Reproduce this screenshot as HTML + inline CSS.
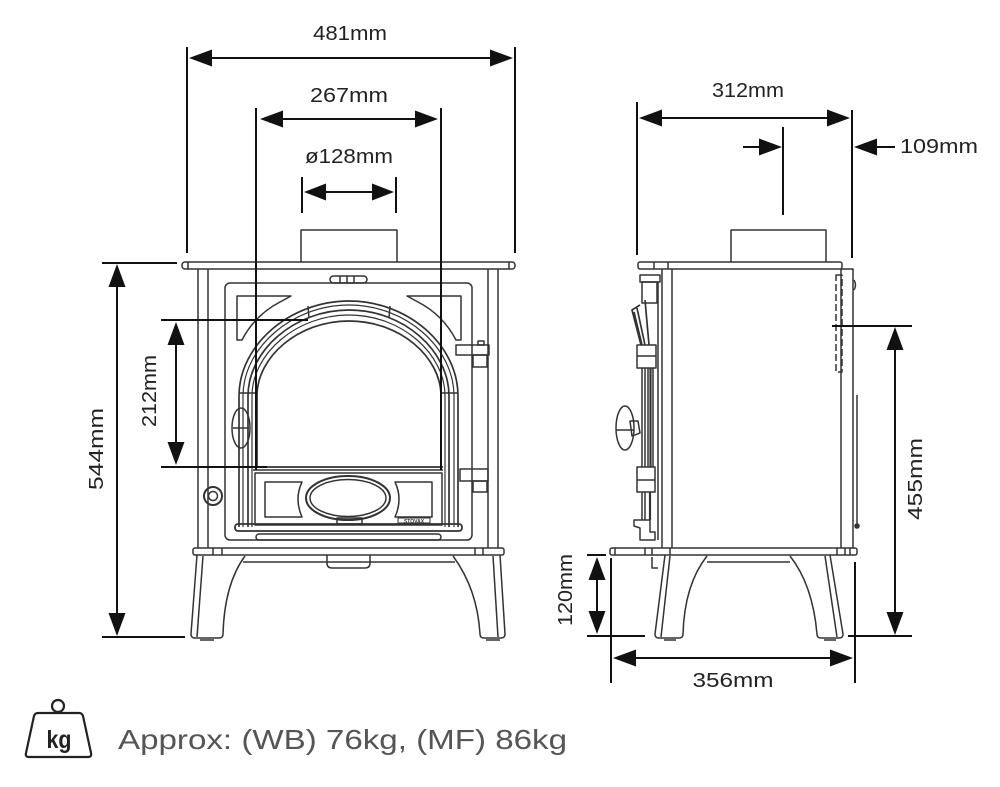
<!DOCTYPE html>
<html><head><meta charset="utf-8"><style>
html,body{margin:0;padding:0;background:#fff;}
svg{display:block;}
text{font-family:"Liberation Sans",sans-serif;}
</style></head><body>
<svg width="1000" height="787" viewBox="0 0 1000 787" xmlns="http://www.w3.org/2000/svg">
<rect width="1000" height="787" fill="#fff"/>

<!-- FRONT VIEW -->
<g fill="none" stroke="#333" stroke-width="1.5" stroke-linejoin="round">
  <path d="M301,262 L301,230 L397,230 L397,262"/>
  <rect x="182" y="262" width="333" height="7" rx="3"/>
  <line x1="188" y1="262" x2="188" y2="269"/>
  <line x1="509" y1="262" x2="509" y2="269"/>
  <line x1="198" y1="269" x2="198" y2="548"/>
  <line x1="208" y1="269" x2="208" y2="548"/>
  <line x1="488" y1="269" x2="488" y2="548"/>
  <line x1="498" y1="269" x2="498" y2="548"/>
  <rect x="225" y="283" width="247" height="257" rx="5"/>
  <rect x="330" y="276" width="37" height="7" rx="3.5"/>
  <line x1="340" y1="276" x2="340" y2="283"/>
  <line x1="347" y1="276" x2="347" y2="283"/>
  <line x1="354" y1="276" x2="354" y2="283"/>
  <path d="M237,296 L291,296 L280,302 Q255,315 242,340 L237,340 Z"/>
  <path d="M461,296 L407,296 L418,302 Q443,315 456,340 L461,340 Z"/>
  <path d="M239,527 L239,396 C239,345 290,301 349,301 C408,301 458,345 458,396 L458,527" stroke-width="1.7"/>
  <path d="M243,527 L243,396 C243,348 292,305 349,305 C406,305 454,348 454,396 L454,527" stroke-width="1.2"/>
  <path d="M248,527 L248,396 C248,351 294,310 349,310 C404,310 449,351 449,396 L449,527" stroke-width="1.7"/>
  <path d="M252,527 L252,396 C252,354 296,315 349,315 C402,315 445,354 445,396 L445,527" stroke-width="1.2"/>
  <path d="M257,467 L257,396 C257,357 298,321 349,321 C400,321 441,357 441,396 L441,467" stroke-width="1.7"/>
  <line x1="239" y1="393" x2="257" y2="393"/>
  <line x1="441" y1="393" x2="458" y2="393"/>
  <line x1="308" y1="306" x2="309" y2="318"/>
  <line x1="390" y1="306" x2="389" y2="318"/>
  <rect x="456" y="345" width="33" height="10"/>
  <rect x="473" y="355" width="14" height="12"/>
  <rect x="478" y="341" width="6" height="4"/>
  <rect x="460" y="469" width="28" height="12"/>
  <rect x="473" y="481" width="14" height="11"/>
  <ellipse cx="241" cy="428" rx="9" ry="20"/>
  <line x1="233" y1="428" x2="249" y2="428"/>
  <circle cx="213" cy="496" r="9" stroke-width="2"/>
  <circle cx="213" cy="496" r="4.5"/>
  <line x1="252" y1="467" x2="443" y2="467" stroke-width="1.8"/>
  <line x1="253" y1="470" x2="443" y2="470"/>
  <rect x="255" y="473" width="187" height="52"/>
  <path d="M265,482 L302,482 Q294,499 302,517 L265,517 Z"/>
  <path d="M432,482 L395,482 Q403,499 395,517 L432,517 Z"/>
  <ellipse cx="348" cy="498" rx="42" ry="22" stroke-width="2"/>
  <ellipse cx="348" cy="498" rx="38" ry="18.5"/>
  <rect x="337" y="518" width="25" height="6"/>
  <rect x="398" y="518" width="32" height="5" stroke-width="1"/>
  <rect x="235" y="524" width="227" height="7" rx="3" stroke-width="1.8"/>
  <rect x="256" y="534" width="185" height="6" rx="3"/>
  <rect x="193" y="548" width="311" height="7" rx="2"/>
  <line x1="213" y1="548" x2="213" y2="555"/>
  <line x1="222" y1="548" x2="222" y2="555"/>
  <line x1="475" y1="548" x2="475" y2="555"/>
  <line x1="483" y1="548" x2="483" y2="555"/>
  <line x1="243" y1="562" x2="455" y2="562"/>
  <path d="M327,555 L327,563 Q327,568 332,568 L365,568 Q370,568 370,563 L370,555"/>
  <path d="M197,555 L191,634 Q191,638 195,638 L219,638 Q223,638 223,634 C224,600 231,575 245,556"/>
  <line x1="203" y1="556" x2="197" y2="637"/>
  <path d="M500,555 L505,634 Q505,638 501,638 L484,638 Q480,638 480,634 C478,600 467,575 453,556"/>
  <line x1="493" y1="556" x2="498" y2="637"/>
  <line x1="200" y1="640" x2="214" y2="640"/>
  <line x1="486" y1="640" x2="500" y2="640"/>
</g>

<!-- SIDE VIEW -->
<g fill="none" stroke="#333" stroke-width="1.5" stroke-linejoin="round">
  <path d="M731,262 L731,230 L826,230 L826,262"/>
  <rect x="638" y="262" width="204" height="7" rx="2"/>
  <line x1="654" y1="262" x2="654" y2="269"/>
  <line x1="668" y1="262" x2="668" y2="269"/>
  <line x1="662" y1="269" x2="662" y2="548"/>
  <line x1="672" y1="269" x2="672" y2="548"/>
  <line x1="841" y1="269" x2="841" y2="548"/>
  <path d="M841,269 L853,269 L853,548"/>
  <rect x="836" y="275" width="6" height="97" stroke-dasharray="7,3"/>
  <path d="M854,280 Q857,285 854,290"/>
  <line x1="857" y1="395" x2="857" y2="528"/>
  <circle cx="857" cy="526" r="2" fill="#333"/>
  <rect x="640" y="275" width="20" height="7"/>
  <rect x="642" y="282" width="15" height="21"/>
  <line x1="658" y1="282" x2="658" y2="540"/>
  <path d="M640,305 L632,310 L641,345 M645,300 L649,345 M637,308 L645,345 M634,312 L642,345" stroke-width="1.7"/>
  <rect x="637" y="345" width="19" height="23"/>
  <line x1="637" y1="356" x2="656" y2="356"/>
  <line x1="642" y1="368" x2="642" y2="467"/>
  <line x1="645" y1="368" x2="645" y2="467"/>
  <line x1="648" y1="368" x2="648" y2="467"/>
  <line x1="650.5" y1="368" x2="650.5" y2="467" stroke-width="2.2"/>
  <line x1="653" y1="368" x2="653" y2="467"/>
  <ellipse cx="625" cy="428" rx="9" ry="22"/>
  <line x1="616" y1="430" x2="634" y2="430"/>
  <path d="M630,421 L638,421 L640,433 L632,436 Z"/>
  <rect x="637" y="467" width="18" height="25"/>
  <line x1="637" y1="480" x2="655" y2="480"/>
  <line x1="642" y1="492" x2="642" y2="520"/>
  <line x1="645" y1="492" x2="645" y2="520"/>
  <line x1="650" y1="492" x2="650" y2="520" stroke-width="2.2"/>
  <path d="M634,520 L650,520 L650,532 L655,532 L655,540 L640,540 L640,528 L634,526 Z"/>
  <rect x="610" y="548" width="247" height="7" rx="2"/>
  <line x1="615" y1="548" x2="615" y2="555"/>
  <line x1="645" y1="548" x2="645" y2="555"/>
  <line x1="652" y1="548" x2="652" y2="555"/>
  <line x1="670" y1="548" x2="670" y2="555"/>
  <line x1="837" y1="548" x2="837" y2="555"/>
  <line x1="845" y1="548" x2="845" y2="555"/>
  <line x1="850" y1="548" x2="850" y2="555"/>
  <path d="M652,557 L652,568 L658,568"/>
  <line x1="707" y1="562" x2="790" y2="562"/>
  <path d="M665,555 L655,634 Q655,638 659,638 L679,638 Q683,638 683,634 C684,600 692,575 707,556"/>
  <line x1="670" y1="556" x2="661" y2="637"/>
  <path d="M830,555 L843,634 Q843,638 839,638 L821,638 Q817,638 817,634 C814,600 805,575 790,556"/>
  <line x1="825" y1="556" x2="837" y2="637"/>
  <line x1="664" y1="640" x2="676" y2="640"/>
  <line x1="824" y1="640" x2="836" y2="640"/>
</g>

<!-- DIMENSION LINES -->
<g stroke="#111" stroke-width="2" fill="none">
  <line x1="187" y1="47" x2="187" y2="253"/>
  <line x1="515" y1="47" x2="515" y2="253"/>
  <line x1="195" y1="58" x2="507" y2="58"/>
  <line x1="256" y1="108" x2="256" y2="470"/>
  <line x1="441" y1="108" x2="441" y2="470"/>
  <line x1="268" y1="119" x2="430" y2="119"/>
  <line x1="302" y1="177" x2="302" y2="213"/>
  <line x1="396" y1="177" x2="396" y2="213"/>
  <line x1="310" y1="192" x2="388" y2="192"/>
  <line x1="102" y1="263" x2="177" y2="263"/>
  <line x1="102" y1="637" x2="185" y2="637"/>
  <line x1="117" y1="270" x2="117" y2="630"/>
  <line x1="161" y1="320" x2="308" y2="320"/>
  <line x1="161" y1="467" x2="267" y2="467"/>
  <line x1="176" y1="328" x2="176" y2="459"/>
  <line x1="637" y1="102" x2="637" y2="255"/>
  <line x1="852" y1="110" x2="852" y2="258"/>
  <line x1="644" y1="118" x2="845" y2="118"/>
  <line x1="783" y1="127" x2="783" y2="215"/>
  <line x1="743" y1="147" x2="770" y2="147"/>
  <line x1="866" y1="147" x2="895" y2="147"/>
  <line x1="832" y1="326" x2="912" y2="326"/>
  <line x1="848" y1="636" x2="912" y2="636"/>
  <line x1="895" y1="335" x2="895" y2="628"/>
  <line x1="587" y1="555" x2="606" y2="555"/>
  <line x1="587" y1="636" x2="645" y2="636"/>
  <line x1="597" y1="562" x2="597" y2="629"/>
  <line x1="611" y1="558" x2="611" y2="683"/>
  <line x1="855" y1="562" x2="855" y2="683"/>
  <line x1="620" y1="658" x2="846" y2="658"/>
</g>
<g fill="#111" stroke="none">
  <polygon points="189,58 212,49.5 212,66.5"/>
  <polygon points="513,58 490,49.5 490,66.5"/>
  <polygon points="260,119 283,110.5 283,127.5"/>
  <polygon points="438,119 415,110.5 415,127.5"/>
  <polygon points="304,192 326,183.5 326,200.5"/>
  <polygon points="394,192 372,183.5 372,200.5"/>
  <polygon points="117,264 108.5,287 125.5,287"/>
  <polygon points="117,636 108.5,613 125.5,613"/>
  <polygon points="176,322 167.5,345 184.5,345"/>
  <polygon points="176,465 167.5,442 184.5,442"/>
  <polygon points="639,118 662,109.5 662,126.5"/>
  <polygon points="850,118 827,109.5 827,126.5"/>
  <polygon points="782,147 759,138.5 759,155.5"/>
  <polygon points="854,147 877,138.5 877,155.5"/>
  <polygon points="895,327 886.5,350 903.5,350"/>
  <polygon points="895,635 886.5,612 903.5,612"/>
  <polygon points="597,557 588.5,580 605.5,580"/>
  <polygon points="597,634 588.5,611 605.5,611"/>
  <polygon points="613,658 636,649.5 636,666.5"/>
  <polygon points="853,658 830,649.5 830,666.5"/>
</g>

<!-- LABELS -->
<g fill="#222" font-size="20">
  <text x="350" y="40" text-anchor="middle" textLength="74" lengthAdjust="spacingAndGlyphs">481mm</text>
  <text x="349" y="102" text-anchor="middle" textLength="78" lengthAdjust="spacingAndGlyphs">267mm</text>
  <text x="349" y="163" text-anchor="middle" textLength="88" lengthAdjust="spacingAndGlyphs">ø128mm</text>
  <text x="748" y="97" text-anchor="middle" textLength="72" lengthAdjust="spacingAndGlyphs">312mm</text>
  <text x="900" y="153" textLength="78" lengthAdjust="spacingAndGlyphs">109mm</text>
  <text x="733" y="687" text-anchor="middle" textLength="81" lengthAdjust="spacingAndGlyphs">356mm</text>
  <text transform="translate(103,449) rotate(-90)" text-anchor="middle" textLength="82" lengthAdjust="spacingAndGlyphs">544mm</text>
  <text transform="translate(156,391) rotate(-90)" text-anchor="middle" textLength="72" lengthAdjust="spacingAndGlyphs">212mm</text>
  <text transform="translate(922,479) rotate(-90)" text-anchor="middle" textLength="82" lengthAdjust="spacingAndGlyphs">455mm</text>
  <text transform="translate(572,590) rotate(-90)" text-anchor="middle" textLength="72" lengthAdjust="spacingAndGlyphs">120mm</text>
</g>

<text x="414" y="523" font-size="5" text-anchor="middle" fill="#333" font-weight="bold">STOVAX</text>

<!-- WEIGHT -->
<g fill="none" stroke="#222" stroke-width="2.2" stroke-linejoin="round">
  <circle cx="58" cy="706" r="6"/>
  <path d="M38,713 L79,713 Q82,713 83,716 L91,753 Q92,757 88,757 L29,757 Q25,757 26,753 L34,716 Q35,713 38,713 Z"/>
</g>
<text x="59" y="748" font-size="25" font-weight="bold" fill="#222" text-anchor="middle" textLength="25" lengthAdjust="spacingAndGlyphs">kg</text>
<text x="118" y="749" font-size="28" fill="#555" textLength="449" lengthAdjust="spacingAndGlyphs">Approx: (WB) 76kg, (MF) 86kg</text>
</svg>
</body></html>
